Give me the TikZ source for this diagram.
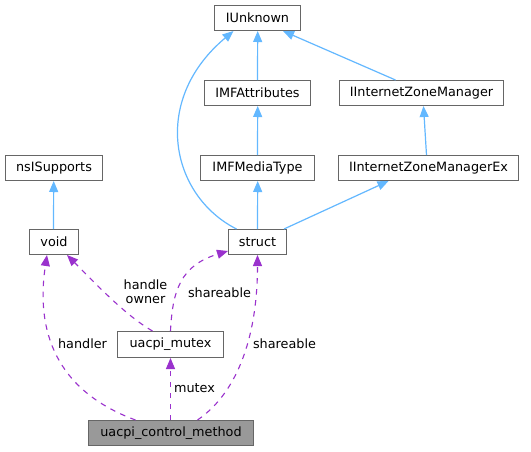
\documentclass[tikz,border=0pt]{standalone}
\usepackage{fontspec}
\setmainfont{DejaVu Sans}
\usetikzlibrary{arrows.meta}
\definecolor{edgeblue}{HTML}{63B8FF}
\definecolor{edgepurple}{HTML}{9A32CD}
\definecolor{boxborder}{HTML}{666666}
\definecolor{boxfillhl}{HTML}{999999}
\begin{document}
\begin{tikzpicture}[x=1pt,y=1pt,
  box/.style={draw=boxborder, fill=white, line width=1pt, inner sep=0pt, minimum height=25pt, font=\fontsize{12.8}{15}\selectfont, text=black},
  hlbox/.style={box, fill=boxfillhl},
  inh/.style={draw=edgeblue, line width=1.2pt, -{Triangle[length=11pt,width=9pt,fill=edgeblue]}},
  use/.style={draw=edgepurple, line width=1.1pt, dash pattern=on 5.5pt off 5.5pt, -{Triangle[length=11pt,width=9pt,fill=edgepurple]}},
  lbl/.style={font=\fontsize{12.8}{14.5}\selectfont, text=black, inner sep=0pt, align=center}]
\useasboundingbox (-0.5,0.5) rectangle (530.5,-450.5);
\fill[white] (-0.5,0.5) rectangle (530.5,-450.5);

\node[box, minimum width=86pt] (iunknown) at (257,-17.5) {IUnknown};
\node[box, minimum width=106pt] (imfattr) at (257,-92.5) {IMFAttributes};
\node[box, minimum width=164pt] (izm) at (421,-92.5) {IInternetZoneManager};
\node[box, minimum width=97pt] (nsisup) at (53.5,-167.5) {nsISupports};
\node[box, minimum width=114pt] (imfmedia) at (257,-167.5) {IMFMediaType};
\node[box, minimum width=180pt] (izmex) at (428,-167.5) {IInternetZoneManagerEx};
\node[box, minimum width=49pt] (void) at (53.5,-241.5) {void};
\node[box, minimum width=58pt] (struct) at (257,-241.5) {struct};
\node[box, minimum width=106pt, minimum height=26pt] (mutex) at (170,-344) {uacpi\_mutex};
\node[hlbox, minimum width=165pt] (ucm) at (170.5,-432.5) {uacpi\_control\_method};

% inheritance (blue)
\draw[inh] (imfattr.north) -- ([xshift=0.2pt]iunknown.south);
\draw[inh] ([xshift=-26pt]izm.north) -- ([xshift=-18pt]iunknown.south east);
\draw[inh] ([xshift=-21pt]struct.north) .. controls (170,-195) and (150,-100) .. ([xshift=-24pt]iunknown.south);
\draw[inh] (imfmedia.north) -- ([xshift=0.2pt]imfattr.south);
\draw[inh] ([xshift=-2pt]izmex.north) -- ([xshift=2pt]izm.south);
\draw[inh] (struct.north) -- ([xshift=0.2pt]imfmedia.south);
\draw[inh] ([xshift=-3pt]struct.north east) -- ([xshift=-40pt]izmex.south);
\draw[inh] ([xshift=-0.5pt]void.north) -- ([xshift=-0.3pt]nsisup.south);

% usage (purple dashed)
\draw[use] ([xshift=-35.5pt]ucm.north) .. controls (55,-390) and (35,-330) .. ([xshift=-7pt]void.south);
\node[lbl] (lhandler) at (82,-343) {handler};
\draw[use] ([xshift=-18pt]mutex.north) .. controls (125,-315) and (95,-283) .. ([xshift=13pt]void.south);
\node[lbl] (lhandle) at (145,-291) {handle\\owner};
\draw[use] (mutex.north) .. controls (172,-290) and (180,-265) .. ([yshift=4pt]struct.south west);
\node[lbl] (lshare1) at (219,-292) {shareable};
\draw[use] ([xshift=26.5pt]ucm.north) .. controls (240,-390) and (257,-330) .. (struct.south);
\node[lbl] (lshare2) at (284,-343) {shareable};
\draw[use] ([xshift=-0.5pt]ucm.north) -- (mutex.south);
\node[lbl] (lmutex) at (194,-388) {mutex};
\end{tikzpicture}
\end{document}
